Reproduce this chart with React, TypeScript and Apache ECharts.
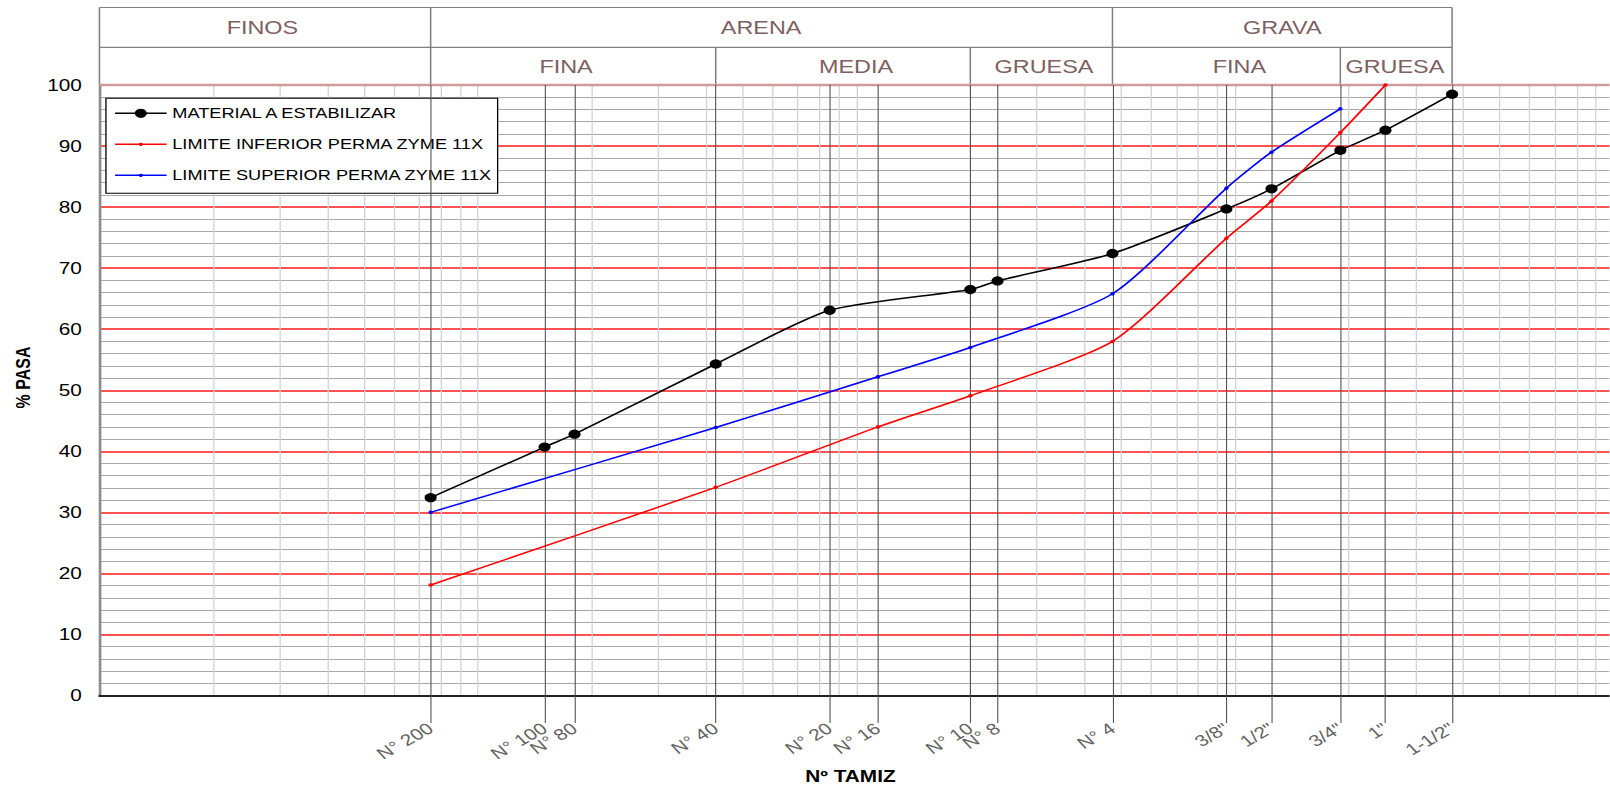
import React, { useEffect, useRef } from 'react';
import * as echarts from 'echarts';

// ---- data ----
const sieveLabels = ['N° 200', 'N° 100', 'N° 80', 'N° 40', 'N° 20', 'N° 16', 'N° 10', 'N° 8', 'N° 4', '3/8"', '1/2"', '3/4"', '1"', '1-1/2"'];
const sieveSizes = [0.075, 0.15, 0.18, 0.425, 0.85, 1.14, 2.0, 2.36, 4.75, 9.5, 12.5, 19, 25, 37.5];

const seriesNames = ['MATERIAL A ESTABILIZAR', 'LIMITE INFERIOR PERMA ZYME 11X', 'LIMITE SUPERIOR PERMA ZYME 11X'];

const materialSizes = [0.075, 0.15, 0.18, 0.425, 0.85, 2.0, 2.36, 4.75, 9.5, 12.5, 19, 25, 37.5];
const materialPass = [32.4, 40.7, 42.8, 54.3, 63.1, 66.5, 67.9, 72.4, 79.7, 83.0, 89.3, 92.6, 98.5];

const lowerSizes = [0.075, 0.425, 1.14, 2.0, 4.75, 9.5, 12.5, 19, 25];
const lowerPass = [18.1, 34.1, 44.0, 49.1, 58.0, 74.9, 81.0, 92.2, 100];

const upperSizes = [0.075, 0.425, 1.14, 2.0, 4.75, 9.5, 12.5, 19];
const upperPass = [30.0, 43.9, 52.2, 57.0, 65.8, 83.1, 89.0, 96.1];

const groupLabels = ['FINOS', 'ARENA', 'GRAVA'];
const groupEdges = [0.01, 0.075, 4.75, 37.5];
const subLabels = ['', 'FINA', 'MEDIA', 'GRUESA', 'FINA', 'GRUESA'];
const subEdges = [0.01, 0.075, 0.425, 2.0, 4.75, 19, 37.5];

const xMinSize = 0.01;
const xMaxSize = 100;
const yMin = 0;
const yMax = 100;
const yStep = 10;

// ---- styles / layout ----
const STRETCH = 1.3;
const W = 1610 / STRETCH;
const H = 791;
const FONT = 'Arial, "Liberation Sans", sans-serif';
const seriesColors = ['#000000', '#ff0000', '#0000ff'];
const groupLabelShift = [-2, -8, 0];
const subLabelShift = [0, -5.5, 10, 2, 10, -1];

const log = (v: number) => Math.log10(v);

export default function App() {
  const ref = useRef<HTMLDivElement>(null);

  useEffect(() => {
    if (!ref.current) return;
    const chart = echarts.init(ref.current, null, { renderer: 'svg', width: W, height: H });

    const sieveLogs = sieveSizes.map(log);
    const minorLogs: number[] = [];
    for (let n = log(xMinSize); n < log(xMaxSize); n++) {
      for (let k = 1; k <= 9; k++) minorLogs.push(log(k * Math.pow(10, n)));
    }
    minorLogs.push(log(xMaxSize));

    const fmt = (v: number) => {
      const i = sieveLogs.findIndex((l) => Math.abs(l - v) < 1e-6);
      return i >= 0 ? sieveLabels[i] : '';
    };

    const yCount = (yMax - yMin) / yStep + 1;
    const yLineColors: string[] = [];
    for (let i = 0; i < yCount; i++) yLineColors.push(i === 0 ? '#000000' : i === yCount - 1 ? '#cf9a9a' : '#ff1a1a');

    const mk = (sizes: number[], vals: number[]) => sizes.map((s, i) => [log(s), vals[i]]);

    const option: any = {
      animation: false,
      backgroundColor: '#ffffff',
      grid: { left: 76.5, top: 85, width: 1164.5, height: 610.5, containLabel: false, outerBoundsMode: 'none' },
      xAxis: [
        {
          type: 'value', min: log(xMinSize), max: log(xMaxSize), position: 'bottom', z: 3,
          axisLine: { show: true, onZero: false, lineStyle: { color: '#222222', width: 2 } },
          axisTick: { show: true, customValues: sieveLogs, length: 27.5, inside: false, lineStyle: { color: '#555555', width: 0.85 } },
          axisLabel: { show: true, customValues: sieveLogs, formatter: fmt, rotate: 36, margin: 31, color: '#636363', fontSize: 16, fontFamily: FONT, hideOverlap: false },
          splitLine: { show: true, lineStyle: { color: '#555555', width: 0.85 } },
        },
        {
          type: 'value', min: log(xMinSize), max: log(xMaxSize), position: 'top', z: 1,
          axisLine: { show: false, onZero: false },
          axisTick: { show: false, customValues: minorLogs },
          axisLabel: { show: false },
          splitLine: { show: true, lineStyle: { color: '#d2d2d2', width: 1 } },
        },
      ],
      yAxis: {
        type: 'value', min: yMin, max: yMax, interval: yStep, z: 1,
        axisLine: { show: true, onZero: false, lineStyle: { color: '#8c8c8c', width: 2 } },
        axisTick: { show: false },
        axisLabel: { color: '#000000', fontSize: 16, margin: 13.5, fontFamily: FONT },
        splitLine: { show: true, lineStyle: { color: yLineColors, width: 1.6 } },
        minorTick: { show: false, splitNumber: 5 },
        minorSplitLine: { show: true, lineStyle: { color: '#a8a8a8', width: 1 } },
      },
      series: [
        { name: seriesNames[0], type: 'line', data: mk(materialSizes, materialPass), smooth: 0.22, symbol: 'circle', symbolSize: 9.3, z: 5,
          lineStyle: { color: seriesColors[0], width: 1.5 }, itemStyle: { color: seriesColors[0] } },
        { name: seriesNames[1], type: 'line', data: mk(lowerSizes, lowerPass), smooth: 0.22, symbol: 'circle', symbolSize: 3.5, z: 5,
          lineStyle: { color: seriesColors[1], width: 1.5 }, itemStyle: { color: seriesColors[1] } },
        { name: seriesNames[2], type: 'line', data: mk(upperSizes, upperPass), smooth: 0.22, symbol: 'circle', symbolSize: 3.5, z: 5,
          lineStyle: { color: seriesColors[2], width: 1.5 }, itemStyle: { color: seriesColors[2] } },
      ],
    };
    chart.setOption(option);

    const px = (size: number, v: number) => chart.convertToPixel({ gridIndex: 0 }, [log(size), v]) as number[];
    const yTop = px(xMinSize, yMax)[1];
    const gridLeft = px(xMinSize, yMax)[0];
    const gridRight = px(xMaxSize, yMax)[0];
    const hTop = 7.5;
    const hMid = 47.3;
    const lineStyle = { stroke: '#808080', lineWidth: 1.2 };
    const els: any[] = [];
    const hRight = px(groupEdges[groupEdges.length - 1], yMax)[0];
    els.push({ type: 'line', shape: { x1: gridLeft, y1: hTop, x2: hRight, y2: hTop }, style: lineStyle, z: 2 });
    els.push({ type: 'line', shape: { x1: gridLeft, y1: hMid, x2: hRight, y2: hMid }, style: lineStyle, z: 2 });
    els.push({ type: 'line', shape: { x1: gridLeft, y1: hTop, x2: gridLeft, y2: yTop }, style: lineStyle, z: 2 });
    groupEdges.slice(1).forEach((e) => {
      const x = px(e, yMax)[0];
      els.push({ type: 'line', shape: { x1: x, y1: hTop, x2: x, y2: yTop }, style: lineStyle, z: 2 });
    });
    subEdges.slice(1).forEach((e) => {
      if (groupEdges.indexOf(e) >= 0) return;
      const x = px(e, yMax)[0];
      els.push({ type: 'line', shape: { x1: x, y1: hMid, x2: x, y2: yTop }, style: lineStyle, z: 2 });
    });
    const headerText = (text: string, x: number, y: number) => ({
      type: 'text', x, y, z: 2,
      style: { text, fill: '#7d6060', fontSize: 18, fontFamily: FONT, align: 'center', verticalAlign: 'middle', textAlign: 'center', textVerticalAlign: 'middle' },
    });
    groupLabels.forEach((t, i) => {
      const x = (px(groupEdges[i], yMax)[0] + px(groupEdges[i + 1], yMax)[0]) / 2 + groupLabelShift[i];
      els.push(headerText(t, x, (hTop + hMid) / 2));
    });
    subLabels.forEach((t, i) => {
      if (!t) return;
      const x = (px(subEdges[i], yMax)[0] + px(subEdges[i + 1], yMax)[0]) / 2 + subLabelShift[i];
      els.push(headerText(t, x, (hMid + yTop) / 2));
    });
    // top (100 %) line
    els.push({ type: 'line', shape: { x1: gridLeft, y1: yTop, x2: gridRight, y2: yTop }, style: { stroke: '#cf9a9a', lineWidth: 2.4 }, z: 2 });

    // legend
    const lgX = 81.5, lgY = 98.3, lgW = 301.3, lgH = 95;
    els.push({ type: 'rect', shape: { x: lgX, y: lgY, width: lgW, height: lgH }, style: { fill: '#ffffff', stroke: '#000000', lineWidth: 1 }, z: 2 });
    const rowY = [113.3, 144.3, 175.3];
    seriesNames.forEach((name, i) => {
      els.push({ type: 'line', shape: { x1: 88.5, y1: rowY[i], x2: 128.2, y2: rowY[i] }, style: { stroke: seriesColors[i], lineWidth: 1.5 }, z: 2 });
      els.push({ type: 'circle', shape: { cx: 108.3, cy: rowY[i], r: i === 0 ? 4.6 : 1.6 }, style: { fill: seriesColors[i] }, z: 2 });
      els.push({ type: 'text', x: 132.5, y: rowY[i], z: 2,
        style: { text: name, fill: '#000000', fontSize: 14, fontFamily: FONT, align: 'left', verticalAlign: 'middle', textAlign: 'left', textVerticalAlign: 'middle' } });
    });

    // axis titles
    els.push({ type: 'text', x: 17.1, y: 377.5, rotation: Math.PI / 2, z: 2,
      style: { text: '% PASA', fill: '#000000', fontSize: 16, fontWeight: 'bold', fontFamily: FONT, align: 'center', verticalAlign: 'middle', textAlign: 'center', textVerticalAlign: 'middle' } });
    els.push({ type: 'text', x: 654.2, y: 776.7, z: 2,
      style: { text: 'Nº TAMIZ', fill: '#000000', fontSize: 16, fontWeight: 'bold', fontFamily: FONT, align: 'center', verticalAlign: 'middle', textAlign: 'center', textVerticalAlign: 'middle' } });

    chart.setOption({ graphic: { z: 2, elements: els } });

    return () => chart.dispose();
  }, []);

  return (
    <div
      ref={ref}
      style={{ position: 'fixed', left: 0, top: 0, width: W, height: H, transform: `scaleX(${STRETCH})`, transformOrigin: '0 0', background: '#ffffff' }}
    />
  );
}
